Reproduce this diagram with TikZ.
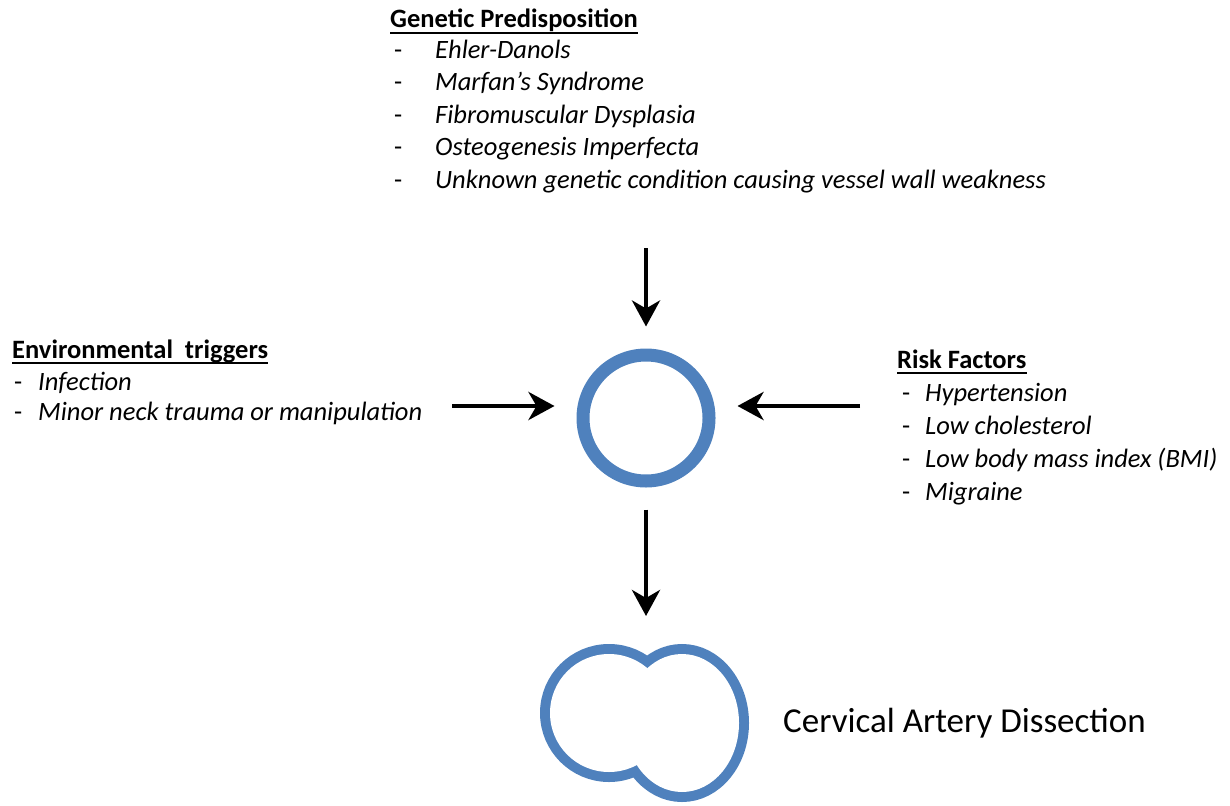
\documentclass[tikz,border=0pt]{standalone}
\usepackage{fontspec}
\setmainfont{Carlito}
\usetikzlibrary{arrows.meta}
\definecolor{ringblue}{RGB}{79,129,189}
\begin{document}
\begin{tikzpicture}[x=1pt,y=-1pt,
  txt/.style={inner sep=0pt, anchor=base west, font=\fontsize{26.5}{30}\selectfont\itshape},
  hdr/.style={inner sep=0pt, anchor=base west, font=\fontsize{26.5}{30}\selectfont\bfseries},
  dashn/.style={inner sep=0pt, anchor=base west, font=\fontsize{26.5}{30}\selectfont},
  uline/.style={line width=2pt},
  arr/.style={line width=4.5pt, -{Stealth[length=26pt,width=28pt,inset=8pt]}},
  ringst/.style={circle, draw=ringblue, line width=13pt, minimum size=126pt, inner sep=0pt},
  lobe/.style={draw=ringblue, line width=20pt}
]
\useasboundingbox (0,0) rectangle (1230,805);

% Genetic predisposition
\node[hdr] (gh) at (390,28) {Genetic Predisposition};
\draw[uline] ([yshift=-5pt]gh.base west) -- ([yshift=-5pt]gh.base east);
\foreach \t [count=\i] in {Ehler-Danols, Marfan’s Syndrome, Fibromuscular Dysplasia, Osteogenesis Imperfecta, Unknown genetic condition causing vessel wall weakness} {
  \node[dashn] (gd\i) at (394,{26+\i*32.5}) {-};
  \node[txt] (gi\i) at (435,{26+\i*32.5}) {\t};
}

% Environmental triggers
\node[hdr] (eh) at (12,358) {Environmental\ \ triggers};
\draw[uline] ([yshift=-5pt]eh.base west) -- ([yshift=-5pt]eh.base east);
\node[dashn] (ed1) at (14,390) {-};
\node[txt] (ei1) at (38,390) {Infection};
\node[dashn] (ed2) at (14,420) {-};
\node[txt] (ei2) at (38,420) {Minor neck trauma or manipulation};

% Risk factors
\node[hdr] (rh) at (897,368) {Risk Factors};
\draw[uline] ([yshift=-5pt]rh.base west) -- ([yshift=-5pt]rh.base east);
\foreach \t [count=\i] in {Hypertension, Low cholesterol, Low body mass index (BMI), Migraine} {
  \node[dashn] (rd\i) at (902,{368+\i*33}) {-};
  \node[txt] (ri\i) at (925,{368+\i*33}) {\t};
}

% central ring
\node[ringst] (ring) at (646,418) {};

% arrows
\coordinate (ta) at (646,248);
\coordinate (la) at (452,406);
\coordinate (ra) at (860,406);
\coordinate (ba) at (646,616);
\draw[arr] (ta) -- ([yshift=22pt]ring.north);
\draw[arr] (la) -- ([xshift=-22pt,yshift=12pt]ring.west);
\draw[arr] (ra) -- ([xshift=22pt,yshift=12pt]ring.east);
\draw[arr] ([yshift=-22pt]ring.south) -- (ba);

% dissected artery: union outline of two lobes (outer halves of wide strokes)
\draw[lobe] (609,713) circle[radius=59];
\draw[lobe] (682,723) ellipse[x radius=57, y radius=69];
\fill[white] (609,713) circle[radius=59];
\fill[white] (682,723) ellipse[x radius=57, y radius=69];

\node[inner sep=0pt, anchor=base west, font=\fontsize{35}{40}\selectfont] (cad) at (783,732) {Cervical Artery Dissection};
\end{tikzpicture}
\end{document}
